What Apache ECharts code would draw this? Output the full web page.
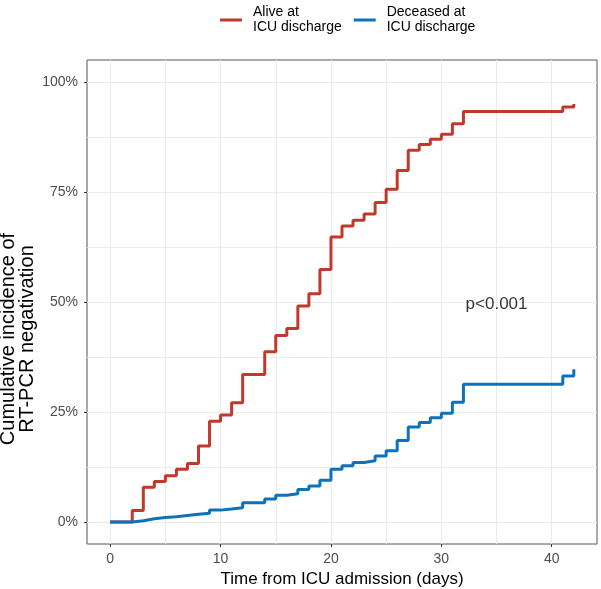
<!DOCTYPE html>
<html>
<head>
<meta charset="utf-8">
<script src="https://cdn.jsdelivr.net/npm/echarts@6/dist/echarts.min.js"></script>
<style>html,body{margin:0;padding:0;background:#fff;}#c{width:601px;height:589px;}</style>
</head>
<body>
<div id="c"></div>
<script>
var days = [0,2,3,4,5,6,7,8,9,10,11,12,14,15,16,17,18,19,20,21,22,23,24,25,26,27,28,29,30,31,32,41,42];
var alive = [0,2.6,7.9,9.2,10.5,12.0,13.3,17.3,22.9,24.3,27.1,33.5,38.7,42.4,44.0,49.1,51.9,57.4,64.8,67.3,68.6,70.0,72.6,75.6,79.9,84.5,85.8,87.0,88.1,90.5,93.3,94.3,95.0];
var deceased = [0,0.3,0.75,1.0,1.2,1.5,1.75,2.0,2.7,2.95,3.25,4.4,5.2,6.1,6.4,7.4,8.2,9.5,12.0,12.8,13.5,13.9,15.0,16.2,18.5,21.6,22.6,23.7,24.7,27.2,31.3,33.2,34.7];
var xTicks = [0,10,20,30,40];
var xGrid = [0,5,10,15,20,25,30,35,40];
var yTicks = [0,25,50,75,100];
var yGrid = [0,12.5,25,37.5,50,62.5,75,87.5,100];
var seriesNames = ['Alive at\nICU discharge','Deceased at\nICU discharge'];
var pLabel = {x:35.0, y:49.5, text:'p<0.001'};

var font = 'Liberation Sans, Arial, sans-serif';
function pair(xs, ys){ return xs.map(function(d,i){return [d, ys[i]];}); }
var xr = {min:-2.1, max:44.1};
var yr = {min:-5, max:105};

var chart = echarts.init(document.getElementById('c'), null, {renderer:'canvas'});
chart.setOption({
  animation:false,
  backgroundColor:'#ffffff',
  textStyle:{fontFamily:font},
  legend:{
    data:seriesNames,
    top:0, left:215,
    icon:'rect', itemWidth:22, itemHeight:3, itemGap:12,
    textStyle:{fontSize:14, color:'#000', lineHeight:15, fontFamily:font, padding:[0,0,0,6]}
  },
  grid:{left:87, right:4, top:60, bottom:45, show:true, borderColor:'#555', borderWidth:1,
        backgroundColor:'transparent', outerBoundsMode:'none', containLabel:false},
  xAxis:[{
    type:'value', min:xr.min, max:xr.max,
    axisLine:{show:false, onZero:false},
    axisTick:{show:false, customValues:xGrid},
    axisLabel:{show:false},
    splitLine:{show:true, lineStyle:{color:'#ebebeb', width:1}}
  },{
    type:'value', min:xr.min, max:xr.max, position:'bottom',
    axisLine:{show:false, onZero:false},
    axisTick:{show:true, customValues:xTicks, length:3, lineStyle:{color:'#333'}},
    axisLabel:{show:true, customValues:xTicks, fontSize:14, color:'#4d4d4d', margin:8, fontFamily:font},
    splitLine:{show:false},
    name:'Time from ICU admission (days)', nameLocation:'middle', nameGap:27, nameMoveOverlap:false,
    nameTextStyle:{fontSize:17, color:'#000', fontFamily:font}
  }],
  yAxis:[{
    type:'value', min:yr.min, max:yr.max,
    axisLine:{show:false, onZero:false},
    axisTick:{show:false, customValues:yGrid},
    axisLabel:{show:false},
    splitLine:{show:true, lineStyle:{color:'#ebebeb', width:1}}
  },{
    type:'value', min:yr.min, max:yr.max, position:'left',
    axisLine:{show:false, onZero:false},
    axisTick:{show:true, customValues:yTicks, length:3, lineStyle:{color:'#333'}},
    axisLabel:{show:true, customValues:yTicks, fontSize:14, color:'#4d4d4d', margin:9, fontFamily:font,
      formatter:function(v){return v+'%';}},
    splitLine:{show:false},
    name:'Cumulative incidence of\nRT-PCR negativation', nameLocation:'middle', nameGap:50, nameRotate:90,
    nameMoveOverlap:false,
    nameTextStyle:{fontSize:20, color:'#000', lineHeight:19, fontFamily:font, padding:[0,74,0,0]}
  }],
  series:[{
    name:seriesNames[0], type:'line', step:'end', showSymbol:false, symbol:'none',
    data:pair(days, alive), lineStyle:{color:'#C0392B', width:3}, itemStyle:{color:'#C0392B'}, z:3
  },{
    name:seriesNames[1], type:'line', step:'end', showSymbol:false, symbol:'none',
    data:pair(days, deceased), lineStyle:{color:'#0E72BB', width:3}, itemStyle:{color:'#0E72BB'}, z:4
  },{
    name:'annotation', type:'scatter', symbolSize:0, silent:true,
    data:[[pLabel.x, pLabel.y]],
    label:{show:true, position:'inside', formatter:pLabel.text, fontSize:17, color:'#000', fontFamily:font}
  }]
});
</script>
</body>
</html>
